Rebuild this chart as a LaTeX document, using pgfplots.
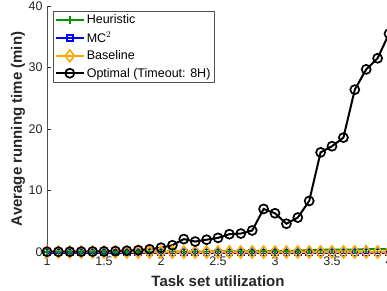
\documentclass[border=0pt]{standalone}
\usepackage{fontspec}
\setmainfont{Liberation Sans}
\usepackage{pgfplots}
\pgfplotsset{compat=1.18}
\definecolor{hgreen}{RGB}{0,150,0}
\definecolor{mblue}{RGB}{0,0,255}
\definecolor{borange}{RGB}{255,165,0}
\definecolor{axgray}{RGB}{38,38,38}
\begin{document}
\begin{tikzpicture}
\begin{axis}[name=ax, at={(0,0)}, anchor=south west,
  scale only axis, width=342pt, height=246pt,
  xmin=1, xmax=4, ymin=0, ymax=40, enlargelimits=false,
  axis lines=left, axis line style={-, draw=axgray!80, line width=0.6pt},
  tick align=inside, major tick length=3.5pt,
  tick style={axgray, line width=0.6pt},
  xtick={1,1.5,2,2.5,3,3.5,4}, ytick={0,10,20,30,40},
  /pgf/number format/assume math mode=true,
  ticklabel style={font=\fontsize{12.5}{14}\selectfont, text=axgray},
  xticklabel style={yshift=-1pt},
  yticklabel style={xshift=-1pt},
  clip=false,
  xlabel={\bfseries Task set utilization},
  ylabel={\bfseries Average running time (min)},
  label style={font=\fontsize{15}{17}\selectfont, text=axgray},
  xlabel style={at={(axis description cs:0.5,0)}, anchor=center, yshift=-29pt},
  ylabel style={at={(axis description cs:-0.085,0.5)}, anchor=center, rotate=0},
  legend style={at={(0,1)}, anchor=north west, xshift=6pt, yshift=-5pt,
    font=\fontsize{12.5}{15}\selectfont, draw=axgray!80, line width=0.6pt,
    inner sep=1.5pt, row sep=2.8pt},
  legend cell align=left,
  legend image code/.code={\draw[mark repeat=2,mark phase=2] plot coordinates {(0pt,0pt) (14pt,0pt) (28pt,0pt)};},
]
\addplot[hgreen, line width=2pt, mark=+, mark size=4pt, mark options={line width=1.6pt}] coordinates {
(1.0,0.02)(1.1,0.02)(1.2,0.02)(1.3,0.02)(1.4,0.02)(1.5,0.02)(1.6,0.03)(1.7,0.03)(1.8,0.03)(1.9,0.04)
(2.0,0.05)(2.1,0.05)(2.2,0.06)(2.3,0.07)(2.4,0.08)(2.5,0.09)(2.6,0.1)(2.7,0.1)(2.8,0.12)(2.9,0.13)
(3.0,0.15)(3.1,0.17)(3.2,0.2)(3.3,0.3)(3.4,0.35)(3.5,0.4)(3.6,0.4)(3.7,0.4)(3.8,0.45)(3.9,0.45)(4.0,0.45)};
\addlegendentry{Heuristic}
\addplot[mblue, line width=2pt, mark=square, mark size=3pt, mark options={line width=1.6pt}] coordinates {
(1.0,-0.1)(1.1,-0.1)(1.2,-0.1)(1.3,-0.1)(1.4,-0.1)(1.5,-0.1)(1.6,-0.1)(1.7,-0.1)(1.8,-0.1)(1.9,-0.1)
(2.0,-0.1)(2.1,-0.1)(2.2,-0.1)(2.3,-0.1)(2.4,-0.1)(2.5,-0.1)(2.6,-0.1)(2.7,-0.1)(2.8,-0.1)(2.9,-0.1)
(3.0,-0.1)(3.1,-0.1)(3.2,-0.1)(3.3,-0.1)(3.4,-0.1)(3.5,-0.1)(3.6,-0.1)(3.7,-0.1)(3.8,-0.1)(3.9,-0.1)(4.0,-0.1)};
\addlegendentry{MC$^2$}
\addplot[borange, line width=2pt, mark=diamond, mark size=6pt, mark options={line width=1.6pt}] coordinates {
(1.0,0)(1.1,0)(1.2,0)(1.3,0)(1.4,0)(1.5,0)(1.6,0)(1.7,0)(1.8,0)(1.9,0)
(2.0,0)(2.1,0)(2.2,0)(2.3,0)(2.4,0)(2.5,0)(2.6,0)(2.7,0)(2.8,0)(2.9,0)
(3.0,0)(3.1,0)(3.2,0)(3.3,0)(3.4,0)(3.5,0)(3.6,0)(3.7,0)(3.8,0)(3.9,0)(4.0,0)};
\addlegendentry{Baseline}
\addplot[black, line width=2pt, mark=o, mark size=4.5pt, mark options={line width=1.7pt}] coordinates {
(1.0,0.05)(1.1,0.05)(1.2,0.06)(1.3,0.07)(1.4,0.08)(1.5,0.1)(1.6,0.15)(1.7,0.2)(1.8,0.3)(1.9,0.45)
(2.0,0.7)(2.1,1.1)(2.2,2.1)(2.3,1.7)(2.4,2.0)(2.5,2.3)(2.6,2.9)(2.7,3.0)(2.8,3.5)(2.9,7.0)
(3.0,6.3)(3.1,4.6)(3.2,5.6)(3.3,8.3)(3.4,16.2)(3.5,17.2)(3.6,18.6)(3.7,26.4)(3.8,29.7)(3.9,31.5)(4.0,35.5)};
\addlegendentry{Optimal (Timeout: 8H)}
\end{axis}
\pgfresetboundingbox
\path (-47pt,-38pt) rectangle (340pt,252pt);
\end{tikzpicture}
\end{document}
